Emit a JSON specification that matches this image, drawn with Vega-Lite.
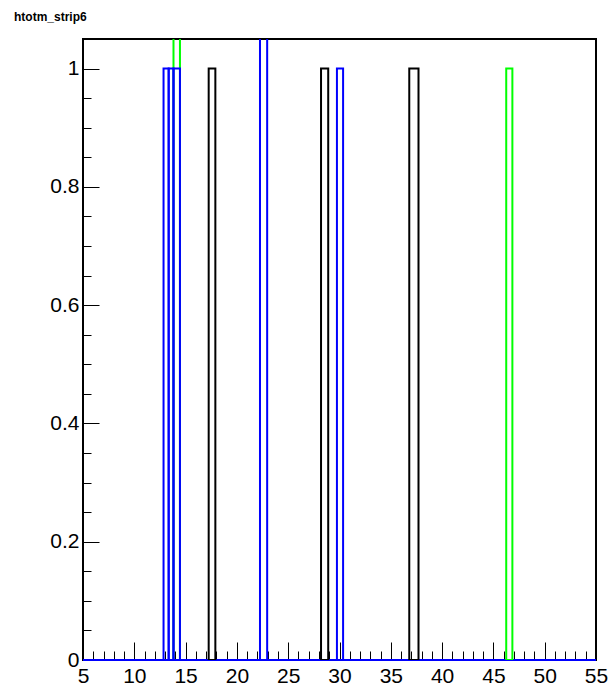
{
  "$schema": "https://vega.github.io/schema/vega-lite/v6.json",
  "width": 513,
  "height": 621,
  "autosize": {"type": "none"},
  "padding": {"left": 83, "top": 39, "right": 13, "bottom": 28},
  "background": "white",
  "title": {"text": "htotm_strip6", "anchor": "start", "frame": "group", "font": "Liberation Sans", "fontSize": 12, "fontWeight": "bold", "color": "black", "dx": -69, "offset": 6, "baseline": "alphabetic"},
  "config": {
    "view": {"stroke": "black", "strokeWidth": 2},
    "axis": {"labelFont": "Liberation Sans", "labelFontSize": 21, "labelColor": "black", "tickColor": "black", "tickWidth": 1, "domain": false, "grid": false, "title": null}
  },
  "data": {"values": [
    {"kind": "base", "series": "black", "x0": 5, "x1": 55, "y": 0},
    {"kind": "base", "series": "green", "x0": 5, "x1": 55, "y": 0},
    {"kind": "base", "series": "blue", "x0": 5, "x1": 55, "y": 0},
    {"kind": "bar", "series": "black", "x0": 17.25, "x1": 17.9, "y": 1},
    {"kind": "bar", "series": "black", "x0": 28.2, "x1": 28.9, "y": 1},
    {"kind": "bar", "series": "black", "x0": 36.8, "x1": 37.7, "y": 1},
    {"kind": "bar", "series": "green", "x0": 13.82, "x1": 14.45, "y": 2},
    {"kind": "bar", "series": "green", "x0": 46.25, "x1": 46.85, "y": 1},
    {"kind": "bar", "series": "blue", "x0": 12.85, "x1": 13.35, "y": 1},
    {"kind": "bar", "series": "blue", "x0": 13.35, "x1": 13.82, "y": 1},
    {"kind": "bar", "series": "blue", "x0": 13.82, "x1": 14.45, "y": 1},
    {"kind": "bar", "series": "blue", "x0": 22.25, "x1": 22.95, "y": 2},
    {"kind": "bar", "series": "blue", "x0": 29.75, "x1": 30.35, "y": 1}
  ]},
  "resolve": {"axis": {"x": "independent", "y": "independent"}},
  "layer": [
    {
      "transform": [{"filter": "datum.kind == 'base'"}],
      "mark": {"type": "rule", "strokeWidth": 2},
      "encoding": {
        "x": {"field": "x0", "type": "quantitative", "scale": {"domain": [5, 55], "nice": false, "zero": false},
              "axis": {"orient": "bottom", "values": [5, 10, 15, 20, 25, 30, 35, 40, 45, 50, 55], "ticks": false, "labelPadding": 5, "labelFlush": false}},
        "x2": {"field": "x1"},
        "y": {"field": "y", "type": "quantitative", "scale": {"domain": [0, 1.05], "nice": false, "zero": false},
              "axis": {"orient": "left", "values": [0, 0.2, 0.4, 0.6, 0.8, 1], "ticks": false, "labelPadding": 4, "format": "~g", "labelFlush": false}},
        "stroke": {"field": "series", "type": "nominal", "scale": {"domain": ["black", "green", "blue"], "range": ["#000000", "#00ff00", "#0000ff"]}, "legend": null}
      }
    },
    {
      "transform": [{"filter": "datum.kind == 'bar' && datum.series != 'blue'"}],
      "mark": {"type": "rect", "filled": false, "strokeWidth": 2, "clip": true},
      "encoding": {
        "x": {"field": "x0", "type": "quantitative",
              "axis": {"orient": "bottom", "values": [5, 10, 15, 20, 25, 30, 35, 40, 45, 50, 55], "labels": false, "tickSize": -18}},
        "x2": {"field": "x1"},
        "y": {"field": "y", "type": "quantitative",
              "axis": {"orient": "left", "values": [0, 0.2, 0.4, 0.6, 0.8, 1], "labels": false, "tickSize": -16}},
        "y2": {"datum": 0},
        "stroke": {"field": "series", "type": "nominal", "legend": null}
      }
    },
    {
      "transform": [{"filter": "datum.kind == 'bar' && datum.series == 'blue'"}],
      "mark": {"type": "rect", "filled": false, "strokeWidth": 2, "clip": true},
      "encoding": {
        "x": {"field": "x0", "type": "quantitative",
              "axis": {"orient": "bottom", "values": [6, 7, 8, 9, 11, 12, 13, 14, 16, 17, 18, 19, 21, 22, 23, 24, 26, 27, 28, 29, 31, 32, 33, 34, 36, 37, 38, 39, 41, 42, 43, 44, 46, 47, 48, 49, 51, 52, 53, 54], "labels": false, "tickSize": -9}},
        "x2": {"field": "x1"},
        "y": {"field": "y", "type": "quantitative",
              "axis": {"orient": "left", "values": [0.05, 0.1, 0.15, 0.25, 0.3, 0.35, 0.45, 0.5, 0.55, 0.65, 0.7, 0.75, 0.85, 0.9, 0.95], "labels": false, "tickSize": -8}},
        "y2": {"datum": 0},
        "stroke": {"field": "series", "type": "nominal", "legend": null}
      }
    }
  ]
}
